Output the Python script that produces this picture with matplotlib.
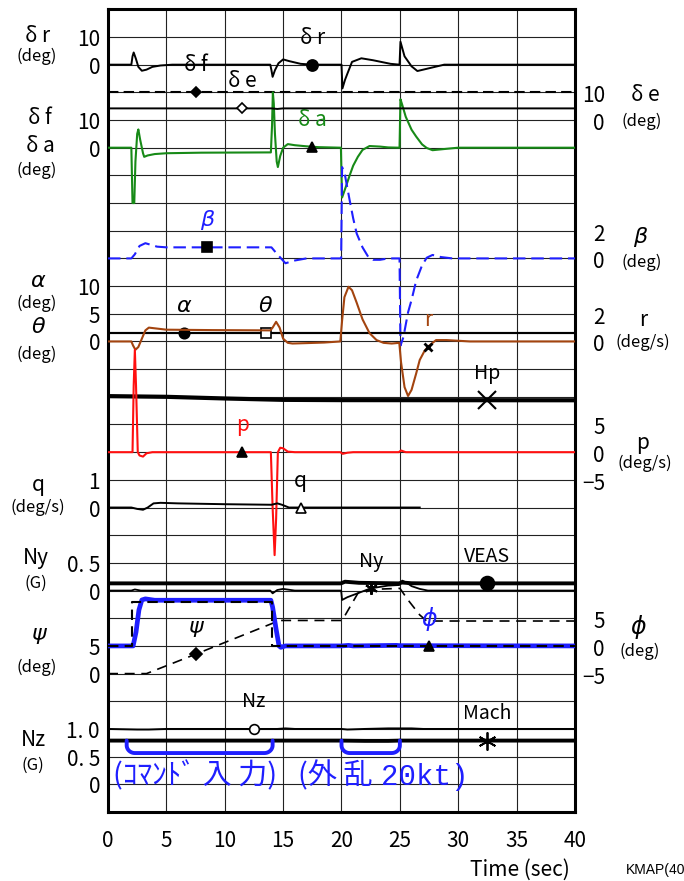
import numpy as np
import matplotlib.pyplot as plt

plt.rcParams['font.family'] = ['Noto Sans CJK JP', 'DejaVu Sans']

# ---- data: (time sec, value) ----
TIME_TICKS = [0, 5, 10, 15, 20, 25, 30, 35, 40]

DELTA_R = [(0, 0), (2.0, 0), (2.1, 3.0), (2.2, 4.4), (2.4, 2.0), (2.6, -0.8), (2.9, -2.2),
           (3.3, -1.8), (3.8, -0.8), (4.5, -0.3), (5.5, 0), (13.9, 0), (14.0, -2.0), (14.1, -4.4),
           (14.3, -2.0), (14.6, 0.5), (15.0, 1.9), (15.5, 1.3), (16.5, 0.3), (17.5, 0), (20.0, 0),
           (20.08, -8.6), (20.3, -5.5), (20.5, -3.3), (20.9, 1.0), (21.7, 2.3), (22.7, 1.6),
           (24.2, 0.3), (24.97, 0), (25.05, 8.3), (25.4, 3.0), (26.0, -0.6), (26.5, -2.3),
           (27.6, -1.2), (28.8, 0), (40, 0)]
DELTA_F = [(0, 20), (40, 20)]
DELTA_E = [(0, 4.2), (14.0, 4.2), (14.5, 4.0), (15.0, 4.2), (40, 4.2)]
DELTA_A = [(0, 0), (2.0, 0), (2.05, -10), (2.1, -20), (2.25, -20), (2.35, -5), (2.5, 5),
           (2.6, 6.6), (2.75, 3.0), (3.0, -2.0), (3.1, -3.3), (3.4, -2.8), (4.0, -2.3),
           (5.0, -2.0), (8.0, -1.8), (13.95, -1.7), (14.05, 8), (14.12, 20), (14.2, 16),
           (14.3, 5), (14.45, -5), (14.55, -7), (14.75, -3), (15.0, 0), (15.4, 1.3), (16.0, 0.9),
           (17.0, 0.5), (18.0, 0.2), (19.95, 0), (20.0, -10), (20.05, -18), (20.3, -15),
           (20.7, -10), (21.0, -6.5), (21.4, -3.3), (21.8, -0.8), (22.4, 0.6), (23.3, 0.4),
           (24.0, 0.1), (24.97, 0), (25.05, 17.5), (25.2, 15.5), (25.5, 11.2), (26.0, 6.5),
           (26.4, 4.0), (26.9, 1.2), (27.3, -0.1), (27.8, -0.9), (29.0, -0.4), (30.0, 0), (40, 0)]
BETA = [(0, 0), (2.0, 0), (2.3, 0.3), (2.7, 0.9), (3.2, 1.1), (3.6, 1.0), (4.2, 0.85), (5.0, 0.8),
        (14.0, 0.8), (14.5, 0.3), (15.2, -0.35), (16.0, -0.15), (17.0, 0), (19.97, 0),
        (20.05, 6.6), (20.3, 6.0), (20.7, 4.2), (21.0, 2.9), (21.3, 1.8), (21.8, 0.8),
        (22.3, 0.1), (22.7, -0.1), (23.3, -0.1), (24.0, 0), (24.97, 0), (25.05, -6.3),
        (25.3, -5.7), (25.7, -3.9), (26.0, -3.0), (26.4, -1.6), (26.9, -0.5), (27.3, 0.05),
        (27.8, 0.25), (28.5, 0.1), (29.5, 0), (40, 0)]
ALPHA = [(0, 1.5), (40, 1.5)]
THETA = [(0, 1.5), (40, 1.5)]
R_RATE = [(0, 0), (2.0, 0), (2.15, -0.3), (2.35, -0.6), (2.6, -0.4), (2.9, 0.2), (3.2, 0.8),
          (3.5, 1.0), (4.0, 0.95), (5.0, 0.85), (9.0, 0.82), (13.9, 0.8), (14.1, 1.0),
          (14.4, 1.42), (14.7, 1.0), (15.0, 0.2), (15.4, -0.1), (15.8, -0.15), (17.0, -0.12),
          (18.5, -0.08), (19.9, 0), (20.05, 1.5), (20.25, 3.2), (20.6, 3.95), (20.9, 3.7),
          (21.3, 2.8), (21.8, 1.6), (22.4, 0.6), (23.0, 0.1), (23.6, -0.1), (24.3, -0.15),
          (24.95, -0.1), (25.1, -1.5), (25.4, -3.3), (25.7, -3.94), (26.0, -3.5), (26.4, -2.3),
          (26.7, -1.34), (27.1, -0.7), (27.4, -0.38), (28.1, 0.1), (29.0, 0.1), (30.0, 0.05),
          (31.0, 0), (40, 0)]
HP = [(0, 3005), (5, 3000), (10, 2988), (15, 2978), (20, 2976), (40, 2975)]
P_RATE = [(0, 0), (2.1, 0), (2.2, 12), (2.3, 18.5), (2.4, 12), (2.55, 0), (2.7, -0.6),
          (3.0, -0.8), (3.3, -0.2), (3.8, 0), (13.95, 0), (14.1, -10), (14.27, -18.6),
          (14.4, -12), (14.55, 0), (14.75, 0.8), (15.0, 0.7), (15.4, 0.1), (16.0, 0),
          (19.9, 0), (20.1, -0.3), (20.5, -0.1), (21.0, 0), (24.9, 0), (25.1, 0.3), (25.5, 0),
          (40, 0)]
Q_RATE = [(0, 0), (2.0, 0), (2.5, -0.05), (3.0, -0.08), (3.4, 0), (3.9, 0.15), (4.5, 0.17),
          (6.0, 0.15), (10.0, 0.12), (14.0, 0.1), (14.5, 0.15), (14.9, 0.1), (15.5, 0),
          (26.7, 0)]
NY = [(0, 0), (2.0, 0), (2.3, 0.02), (2.8, 0), (13.9, 0), (14.1, -0.05), (14.5, 0.01),
      (15.0, 0.03), (16.0, 0), (19.97, 0), (20.05, -0.17), (20.5, -0.12), (21.5, -0.04),
      (22.5, 0.04), (24.0, 0.09), (24.95, 0.1), (25.2, 0.18), (25.6, 0.14), (26.0, 0.08),
      (26.7, 0.03), (27.4, 0), (40, 0)]
VEAS = [(0, 165.2), (19.95, 165.2), (20.3, 166.4), (21.5, 165.6), (24.9, 165.2), (25.2, 165.8),
        (26.0, 165.3), (27.0, 165.2), (40, 165.2)]
PSI = [(0, 0), (3.3, 0), (7.5, 3.5), (14.7, 9.6), (20.0, 9.6), (20.3, 10.5), (21.4, 14.5),
       (22.4, 15.2), (25.0, 15.4), (25.7, 13.3), (26.7, 10.6), (27.3, 9.5), (40, 9.5)]
PHI = [(0, 0), (2.15, 0), (2.4, 2.5), (2.65, 6.5), (2.9, 8.3), (3.2, 8.5), (4.0, 8.25),
       (13.95, 8.25), (14.1, 7.0), (14.4, 3.0), (14.65, 0), (14.8, -0.25), (15.2, 0),
       (20.0, 0), (20.6, 0.1), (21.0, 0), (24.7, 0.1), (25.0, 0.05), (40, 0)]
PHI_CMD = [(0, 0), (2.06, 0), (2.06, 8.0), (14.07, 8.0), (14.07, 0), (40, 0)]
NZ = [(0, 1.0), (2.5, 0.99), (3.5, 0.99), (5.0, 1.0), (14.5, 1.0), (15.2, 1.01), (16.0, 1.0),
      (20.0, 1.0), (20.5, 0.99), (22.0, 1.0), (24.0, 1.01), (26.0, 1.01), (27.0, 1.0), (40, 1.0)]
MACH = [(0, 0.258), (20, 0.258), (22, 0.257), (24, 0.257), (25, 0.258), (40, 0.258)]

CMD_SPAN = (1.6, 14.1)     # command input window
GUST_SPAN = (20.0, 25.0)   # 20 kt gust window

# ---- layout ----
W, H = 684, 881
L, R, T, B = 108, 575, 9.3, 812
ROWS = 29
RECT = [L / W, 1 - B / H, (R - L) / W, (B - T) / H]
PT = 0.72  # points per pixel at 100 dpi

BLUE = '#1f1fff'
GREEN = '#178a17'
BROWN = '#a3440f'
RED = '#ff1010'

fig = plt.figure(figsize=(W / 100, H / 100), dpi=100)
base = fig.add_axes(RECT)
base.set_xlim(0, 40)
base.set_ylim(0, ROWS)
base.set_xticks(TIME_TICKS)
base.set_yticks(range(ROWS + 1))
base.set_yticklabels([])
base.grid(True, color='#222222', lw=0.8)
base.tick_params(length=0, labelsize=15, pad=13)
for s in base.spines.values():
    s.set_linewidth(2.2)


def channel(name, zero, per_row):
    ax = fig.add_axes(RECT, label=name)
    ax.set_xlim(0, 40)
    ax.set_ylim(-zero * per_row, (ROWS - zero) * per_row)
    ax.axis('off')
    return ax


def trace(ax, data, **kw):
    t, v = np.array(data).T
    ax.plot(t, v, **kw)


def tag(ax, data, t, label, mk, ms=7, mfc='black', color='black', lcolor='black',
        size=15, italic=False, mew=1.2):
    tt, vv = np.array(data).T
    v = np.interp(t, tt, vv)
    ax.plot([t], [v], marker=mk, ms=ms, mfc=mfc, mec=color, mew=mew, ls='none', zorder=5)
    kw = dict(family=['DejaVu Sans'], style='italic') if italic else {}
    ax.annotate(label, (t, v), xytext=(0, 27 * PT), textcoords='offset points',
                ha='center', va='center', fontsize=size, color=lcolor, **kw)


def lscale(ax, items, size=15):
    for v, s in items:
        ax.annotate(s, (0, v), xytext=(-8 * PT, -3 * PT), textcoords='offset points',
                    ha='right', va='center', fontsize=size, annotation_clip=False)


def rscale(ax, items, size=15):
    for v, s in items:
        ax.annotate(s, (40, v), xytext=(30 * PT, -4 * PT), textcoords='offset points',
                    ha='right', va='center', fontsize=size, annotation_clip=False)


def ftext(x, y, s, size=15, ha='center', **kw):
    fig.text(x / W, 1 - y / H, s, ha=ha, va='center', fontsize=size, **kw)


# delta r
ax = channel('dr', 27, 10)
trace(ax, DELTA_R, color='black', lw=1.4)
tag(ax, DELTA_R, 17.5, 'δ r', 'o', ms=8)
lscale(ax, [(10, '10'), (0, '0')])

# delta f / delta a
ax = channel('da', 24, 10)
trace(ax, DELTA_F, color='black', lw=1.5, dashes=(5, 2.5))
tag(ax, DELTA_F, 7.5, 'δ f', 'D', ms=5.5)
trace(ax, DELTA_A, color=GREEN, lw=1.5)
tag(ax, DELTA_A, 17.5, 'δ a', '^', ms=7, lcolor=GREEN)
lscale(ax, [(10, '10'), (0, '0')])

# delta e
ax = channel('de', 25, 10)
trace(ax, DELTA_E, color='black', lw=1.4)
tag(ax, DELTA_E, 11.5, 'δ e', 'D', ms=5, mfc='white')
rscale(ax, [(10, '10'), (0, '0')])

# beta
ax = channel('beta', 20, 2)
trace(ax, BETA, color=BLUE, lw=1.5, dashes=(6, 2.8))
tag(ax, BETA, 8.5, 'β', 's', ms=7.5, lcolor=BLUE, italic=True, size=16)
rscale(ax, [(2, '2'), (0, '0')])

# alpha / theta
ax = channel('alpha', 17, 5)
trace(ax, ALPHA, color='black', lw=1.5)
trace(ax, THETA, color='black', lw=1.5)
tag(ax, ALPHA, 6.5, 'α', 'o', ms=7.5, italic=True, size=16)
tag(ax, THETA, 13.5, 'θ', 's', ms=6.5, mfc='white', italic=True, size=16)
lscale(ax, [(10, '10'), (5, '5'), (0, '0')])

# r
ax = channel('r', 17, 2)
trace(ax, R_RATE, color=BROWN, lw=1.5)
tag(ax, R_RATE, 27.4, 'r', 'x', ms=6, mew=2, lcolor=BROWN)
rscale(ax, [(2, '2'), (0, '0')])

# Hp
ax = channel('hp', 0, 200)
trace(ax, HP, color='black', lw=3)
tag(ax, HP, 32.5, 'Hp', 'x', ms=13, mew=1.5, size=14)

# p
ax = channel('p', 13, 5)
trace(ax, P_RATE, color=RED, lw=1.5)
tag(ax, P_RATE, 11.5, 'p', '^', ms=7.5, lcolor=RED)
rscale(ax, [(5, '5'), (0, '0'), (-5, '−5')])

# q
ax = channel('q', 11, 1)
trace(ax, Q_RATE, color='black', lw=1.4)
tag(ax, Q_RATE, 16.5, 'q', '^', ms=6.5, mfc='white')
lscale(ax, [(1, '1'), (0, '0')])

# Ny
ax = channel('ny', 8, 0.5)
trace(ax, NY, color='black', lw=1.3)
tag(ax, NY, 22.5, 'Ny', (6, 2, 0), ms=9, mew=1.5, size=14)
lscale(ax, [(0.5, '0. 5'), (0, '0')])

# VEAS
ax = channel('veas', 0, 20)
trace(ax, VEAS, color='black', lw=2.8)
tag(ax, VEAS, 32.5, 'VEAS', 'o', ms=10, size=14)

# psi
ax = channel('psi', 5, 5)
trace(ax, PSI, color='black', lw=1.2, dashes=(6, 4))
tag(ax, PSI, 7.5, 'ψ', 'D', ms=6, italic=True, size=16)
lscale(ax, [(5, '5'), (0, '0')])

# phi
ax = channel('phi', 6, 5)
trace(ax, PHI, color=BLUE, lw=3.4)
trace(ax, PHI_CMD, color='black', lw=1.5, dashes=(5, 3))
tag(ax, PHI, 27.5, 'ϕ', '^', ms=7.5, lcolor=BLUE, italic=True, size=17)
rscale(ax, [(5, '5'), (0, '0'), (-5, '−5')])

# Nz
ax = channel('nz', 1, 0.5)
trace(ax, NZ, color='black', lw=1.4)
tag(ax, NZ, 12.5, 'Nz', 'o', ms=7, mfc='white', size=14)
lscale(ax, [(1.0, '1. 0'), (0.5, '0. 5'), (0, '0')])

# Mach + input brackets
ax = channel('mach', 0, 0.1)
trace(ax, MACH, color='black', lw=2.8)
tag(ax, MACH, 32.5, 'Mach', (6, 2, 0), ms=13, mew=1.3, size=14)
mach0 = MACH[0][1]
depth, rx, ry = 0.045, 0.7, 0.028
ang = np.linspace(0, np.pi / 2, 12)
for a, b in [CMD_SPAN, GUST_SPAN]:
    xs = np.concatenate([[a], a + rx - rx * np.cos(ang), b - rx + rx * np.sin(ang), [b]])
    bot = mach0 - depth
    ys = np.concatenate([[mach0], bot + ry - ry * np.sin(ang), bot + ry - ry * np.cos(ang), [mach0]])
    ax.plot(xs, ys, color=BLUE, lw=2.8, solid_capstyle='round')

# annotation under the chart: command input / 20 kt gust
ftext(113, 776, '(ｺﾏﾝﾄﾞ 入 力)', 21, ha='left', color=BLUE)
ftext(298, 776, '(外 乱', 21, ha='left', color=BLUE)
ftext(381, 777, '20kt)', 21, ha='left', color=BLUE, family=['Liberation Mono', 'DejaVu Sans Mono'])

# left channel names
ftext(38, 36, 'δ r', 15)
ftext(37, 56, '(deg)', 12)
ftext(40, 118, 'δ f', 15)
ftext(40, 146, 'δ a', 15)
ftext(37, 170, '(deg)', 12)
ftext(38, 281, 'α', 16, family=['DejaVu Sans'], style='italic')
ftext(37, 303, '(deg)', 12)
ftext(38, 327, 'θ', 16, family=['DejaVu Sans'], style='italic')
ftext(37, 354, '(deg)', 12)
ftext(38, 485, 'q', 15)
ftext(38, 507, '(deg/s)', 12)
ftext(36, 558, 'Ny', 15)
ftext(36, 583, '(G)', 12)
ftext(38, 634, 'ψ', 16, family=['DejaVu Sans'], style='italic')
ftext(37, 667, '(deg)', 12)
ftext(33, 740, 'Nz', 15)
ftext(33, 765, '(G)', 12)

# right channel names
ftext(645, 95, 'δ e', 15)
ftext(642, 121, '(deg)', 12)
ftext(640, 237, 'β', 16, family=['DejaVu Sans'], style='italic')
ftext(642, 262, '(deg)', 12)
ftext(643, 320, 'r', 15)
ftext(643, 342, '(deg/s)', 12)
ftext(643, 443, 'p', 15)
ftext(645, 463, '(deg/s)', 12)
ftext(638, 627, 'ϕ', 17, family=['DejaVu Sans'], style='italic')
ftext(640, 651, '(deg)', 12)

ftext(520, 870, 'Time (sec)', 15)
ftext(626, 870, 'KMAP(40', 10, ha='left', family=['Liberation Sans', 'DejaVu Sans'])

fig.savefig('out.png', dpi=100)
